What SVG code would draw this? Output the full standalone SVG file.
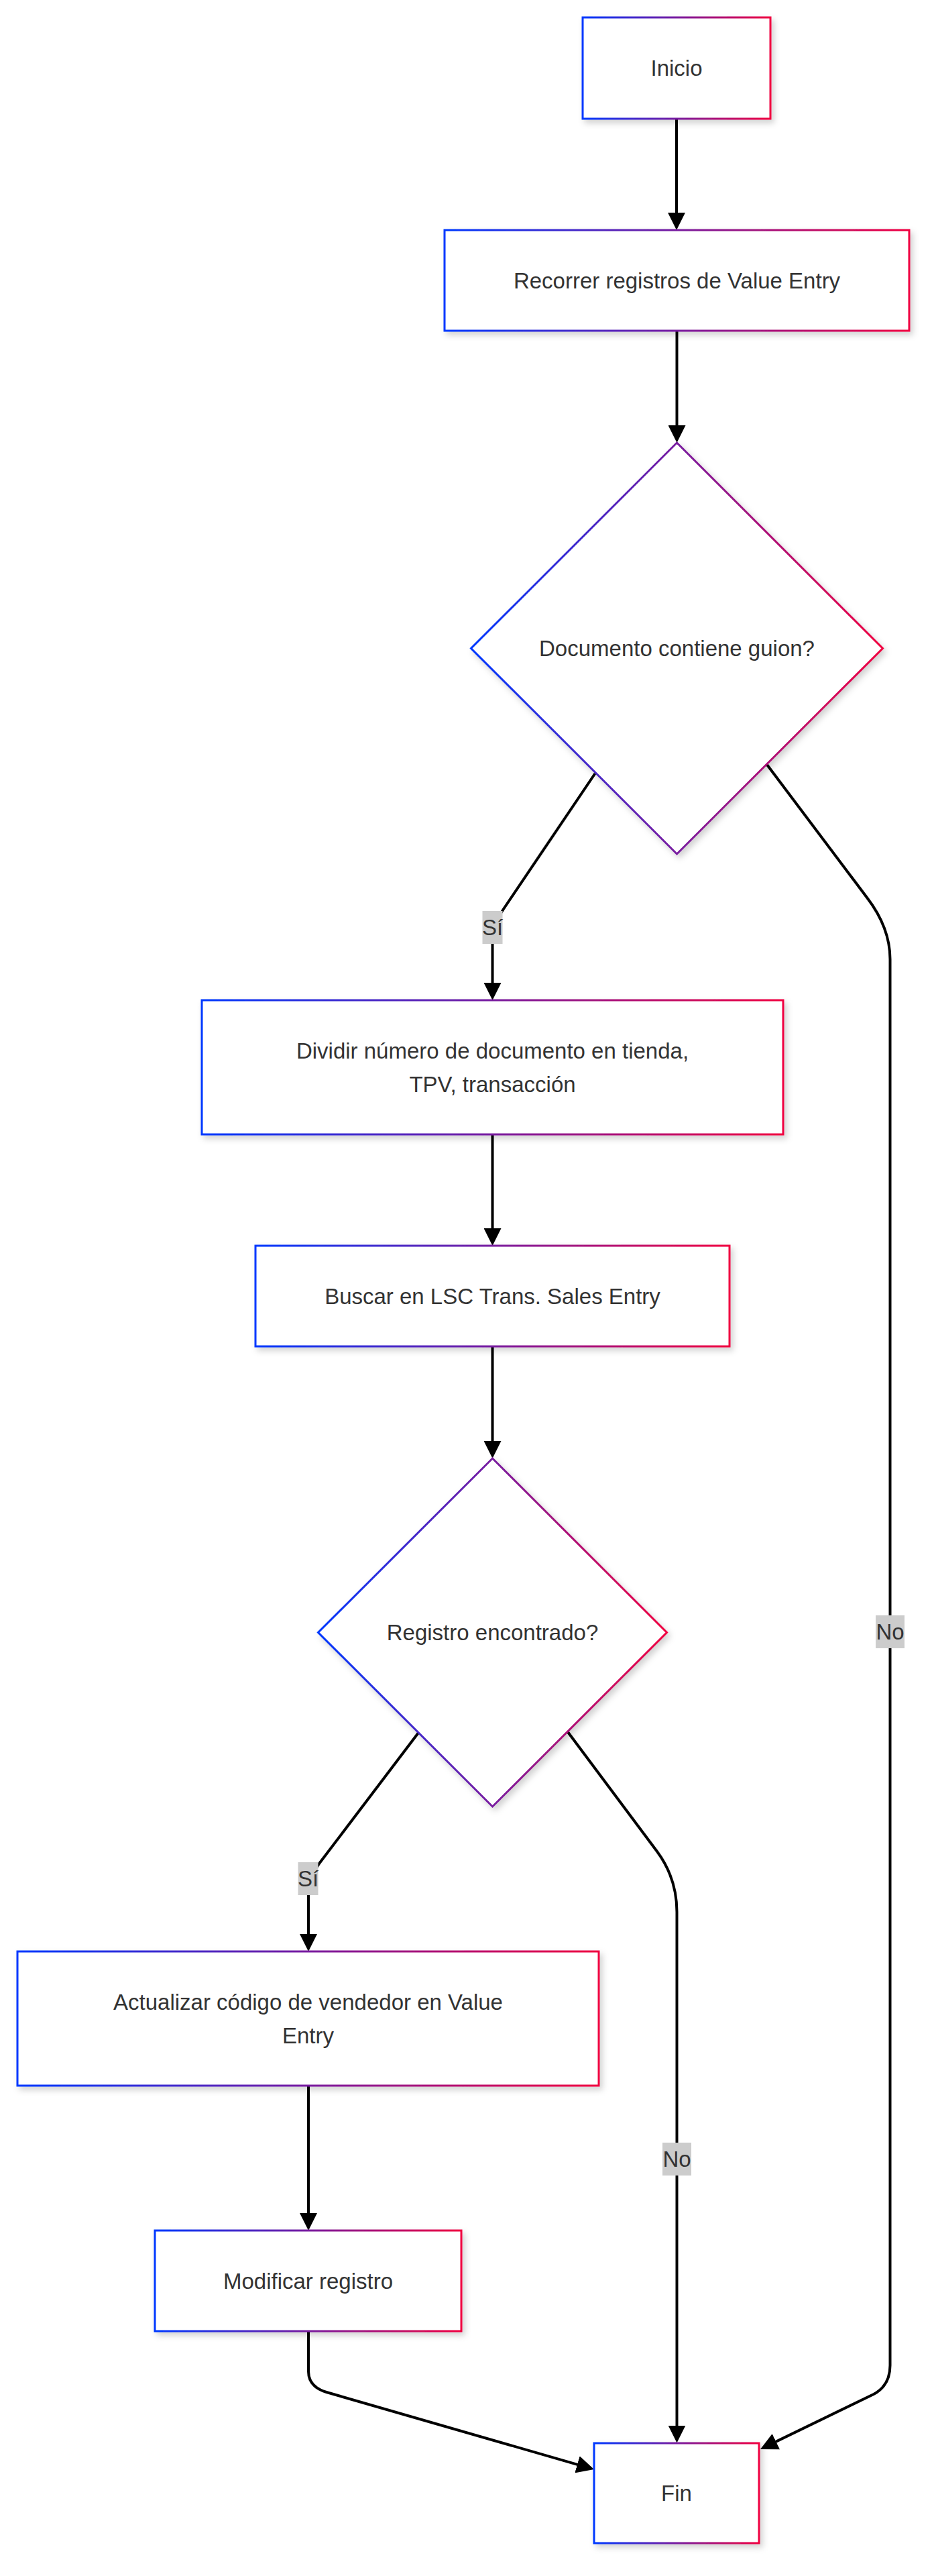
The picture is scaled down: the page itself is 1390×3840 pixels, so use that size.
<svg xmlns="http://www.w3.org/2000/svg" width="1390" height="3840" viewBox="0 0 1390 3840">
<style>
  .node { fill: #ffffff; stroke: url(#grad); stroke-width: 3; filter: url(#shadow); }
  .label { font-family: "Liberation Sans", Arial, sans-serif; font-size: 33px; fill: #333333; text-anchor: middle; dominant-baseline: central; }
  .edge { fill: none; stroke: #000000; stroke-width: 4; marker-end: url(#arrow); }
  .elbg { fill: #cccccc; }
</style>
<defs>
  <linearGradient id="grad" x1="0" y1="0" x2="1" y2="0">
    <stop offset="0" stop-color="#0038ff"/>
    <stop offset="1" stop-color="#f00040"/>
  </linearGradient>
  <filter id="shadow" x="-20%" y="-20%" width="140%" height="140%">
    <feDropShadow dx="4" dy="5" stdDeviation="5" flood-color="#000000" flood-opacity="0.18"/>
  </filter>
  <marker id="arrow" markerUnits="userSpaceOnUse" viewBox="0 0 26 26" markerWidth="26" markerHeight="26" refX="20" refY="13" orient="auto">
    <path d="M0,0 L26,13 L0,26 z" fill="#000000"/>
  </marker>
</defs>
<rect width="1390" height="3840" fill="#ffffff"/>
<g id="connectors">
  <path class="edge" d="M1009 177 L1009 337"/>
  <path class="edge" d="M1009.5 493 L1009.5 654"/>
  <path class="edge" d="M887.5 1153 L751 1355 Q734.5 1380 734.5 1405 L734.5 1485"/>
  <path class="edge" d="M1144 1140 L1293 1338 Q1327.5 1383 1327.5 1430 L1327.5 3526 Q1327.5 3556 1303 3569 L1139.4 3648.4"/>
  <path class="edge" d="M734.5 1691 L734.5 1851"/>
  <path class="edge" d="M734.5 2007 L734.5 2168"/>
  <path class="edge" d="M624 2583 L476 2778 Q460 2800 460 2822 L460 2903"/>
  <path class="edge" d="M847 2582 L980 2760 Q1009.5 2800 1009.5 2850 L1009.5 3635.5"/>
  <path class="edge" d="M460 3109 L460 3319"/>
  <path class="edge" d="M460 3475 L460 3535 Q460 3558 487 3566 L880.2 3679.3"/>
  <g id="edge-labels">
    <rect class="elbg" x="719.5" y="1358" width="30" height="49"/>
    <text class="label" x="734.5" y="1382.5">Sí</text>
    <rect class="elbg" x="1306" y="2408" width="43" height="49"/>
    <text class="label" x="1327.5" y="2432.5">No</text>
    <rect class="elbg" x="444.5" y="2776" width="30" height="49"/>
    <text class="label" x="459.5" y="2800.5">Sí</text>
    <rect class="elbg" x="988" y="3194" width="43" height="49"/>
    <text class="label" x="1009.5" y="3218.5">No</text>
  </g>
</g>
<g id="inicio">
  <rect class="node" x="869" y="26" width="280" height="151"/>
  <text class="label" x="1009" y="101.5">Inicio</text>
</g>
<g id="recorrer">
  <rect class="node" x="663" y="343" width="693" height="150"/>
  <text class="label" x="1009.5" y="418">Recorrer registros de Value Entry</text>
</g>
<g id="documento-guion">
  <polygon class="node" points="1009.5,660 1316.5,966.5 1009.5,1273 702.5,966.5"/>
  <text class="label" x="1009.5" y="966.5">Documento contiene guion?</text>
</g>
<g id="dividir">
  <rect class="node" x="301" y="1491" width="867" height="200"/>
  <text class="label" x="734.5" y="1566">Dividir número de documento en tienda,</text>
  <text class="label" x="734.5" y="1616">TPV, transacción</text>
</g>
<g id="buscar">
  <rect class="node" x="381" y="1857" width="707" height="150"/>
  <text class="label" x="734.5" y="1932">Buscar en LSC Trans. Sales Entry</text>
</g>
<g id="registro-encontrado">
  <polygon class="node" points="734.5,2174 994.5,2433.5 734.5,2693 474.5,2433.5"/>
  <text class="label" x="734.5" y="2433.5">Registro encontrado?</text>
</g>
<g id="actualizar">
  <rect class="node" x="26" y="2909" width="867" height="200"/>
  <text class="label" x="459.5" y="2984">Actualizar código de vendedor en Value</text>
  <text class="label" x="459.5" y="3034">Entry</text>
</g>
<g id="modificar">
  <rect class="node" x="231" y="3325" width="457" height="150"/>
  <text class="label" x="459.5" y="3400">Modificar registro</text>
</g>
<g id="fin">
  <rect class="node" x="886" y="3642" width="246" height="149"/>
  <text class="label" x="1009" y="3716.5">Fin</text>
</g>
</svg>
